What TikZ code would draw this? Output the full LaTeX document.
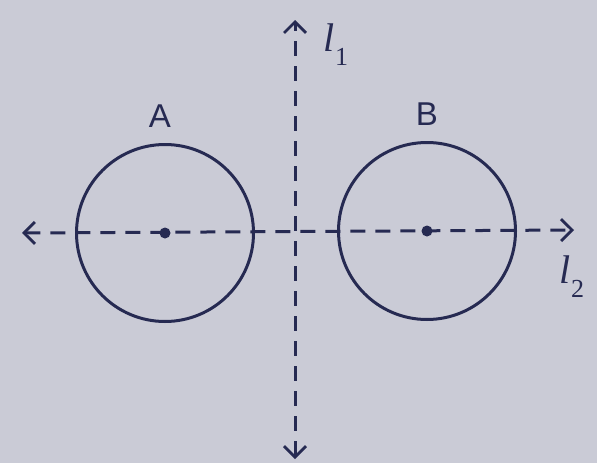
\documentclass[tikz,border=0pt]{standalone}
\usepackage{fontspec}
\newfontfamily\labsans{Liberation Sans}
\newfontfamily\labserif{Liberation Serif}
\usetikzlibrary{arrows.meta}
\definecolor{bg}{HTML}{CACBD6}
\definecolor{ink}{HTML}{262A52}
\newcommand{\lsub}[2]{\textit{#1}\raisebox{-0.35em}{\fontsize{26}{28}\selectfont #2}}
\begin{document}
\begin{tikzpicture}[x=1pt,y=-1pt,
  axis/.style={ink,line width=3pt,dash pattern=on 15pt off 10pt,{Straight Barb[length=11pt,width=22pt,line width=2.8pt]}-{Straight Barb[length=11pt,width=22pt,line width=2.8pt]}},
  circ/.style={draw=ink,line width=3pt,circle,minimum size=177pt,inner sep=0pt},
  lab/.style={ink,font=\labsans\fontsize{33}{36}\selectfont},
  mlab/.style={ink,font=\labserif\fontsize{40}{44}\selectfont}]
\fill[bg] (0,0) rectangle (597,463);
\useasboundingbox (0,0) rectangle (597,463);
\node[circ] (A) at (165,233) {};
\node[circ] (B) at (427,231) {};
\fill[ink] (A.center) circle (5.5pt);
\fill[ink] (B.center) circle (5.5pt);
\coordinate (t) at (295,20);
\coordinate (b) at (295,459);
\coordinate (l) at (22,233);
\coordinate (r) at (574,230);
\draw[axis] (b) -- (t);
\draw[axis] (l) -- (r);
\node[lab] (la) at (160,116) {A};
\node[lab] (lb) at (427,114) {B};
\node[mlab] (l1) at (336,45) {\lsub{l}{1}};
\node[mlab] (l2) at (572,277) {\lsub{l}{2}};
\end{tikzpicture}
\end{document}
